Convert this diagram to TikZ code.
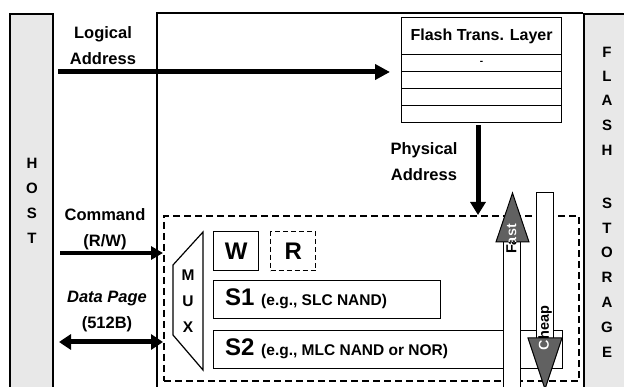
\documentclass[tikz,border=0pt]{standalone}
\usepackage{fontspec}
\setmainfont{Liberation Sans}
\usetikzlibrary{arrows.meta,calc}
\begin{document}
\begin{tikzpicture}[x=1pt,y=-1pt,
  lbl/.style={font=\fontsize{16.5}{26}\selectfont\bfseries, align=center, inner sep=0pt},
  letter/.style={font=\fontsize{15}{15}\selectfont\bfseries, inner sep=0pt},
  side/.style={draw=black, line width=1.6pt, fill=black!9},
  bigarrow/.style={line width=5pt, -{Triangle[length=15pt,width=15pt]}},
  midarrow/.style={line width=4pt, -{Triangle[length=12pt,width=13pt]}},
  dblarrow/.style={line width=5pt, {Triangle[length=12pt,width=15pt]}-{Triangle[length=12pt,width=15pt]}},
  cell/.style={draw=black, line width=1.2pt, anchor=north west, inner sep=0pt, minimum width=160pt},
  box/.style={draw=black, line width=1.2pt, anchor=north west, inner sep=0pt},
  dbox/.style={draw=black, line width=2pt, dash pattern=on 7pt off 4pt, anchor=north west, inner sep=0pt},
  big/.style={font=\fontsize{24}{24}\selectfont\bfseries},
  headfill/.style={draw=black, line width=1pt, fill=black!62},
  shaft/.style={draw=black, line width=1pt, fill=white},
  rtxt/.style={rotate=90, font=\fontsize{14.5}{14.5}\selectfont\bfseries, inner sep=0pt}
]
\useasboundingbox (0,0) rectangle (624,387);
\fill[white] (0,0) rectangle (624,387);

% host column
\node[side, anchor=north west, minimum width=43pt, minimum height=390pt, inner sep=0pt] (host) at (9,13) {};
\node[letter] (h1) at (32,163) {H};
\node[letter] (h2) at (32,188) {O};
\node[letter] (h3) at (32,213) {S};
\node[letter] (h4) at (32,238) {T};

% flash storage column
\node[side, anchor=north west, minimum width=41pt, minimum height=390pt, inner sep=0pt] (fs) at (583,13) {};
\foreach \l/\yy [count=\i] in {F/52,L/76,A/100,S/125,H/150,S/203,T/228,O/252,R/277,A/302,G/327,E/352}
  \node[letter] (f\i) at (607,\yy) {\l};

% main frame
\coordinate (fbl) at (157,400);
\coordinate (ftl) at (157,13);
\draw[line width=1.5pt] (fbl) -- (ftl) -- (fs.north west);

% FTL table
\node[cell, minimum height=37pt, font=\fontsize{16}{16}\selectfont\bfseries] (ftlh) at (401,17) {Flash Trans. Layer};
\node[cell, minimum height=17pt] (r1) at (401,54) {\bfseries -};
\node[cell, minimum height=17pt] (r2) at (401,71) {};
\node[cell, minimum height=17pt] (r3) at (401,88) {};
\node[cell, minimum height=17pt] (r4) at (401,105) {};

% logical address
\node[lbl] (la) at (103,46) {Logical\\Address};
\coordinate (las) at (58,72);
\coordinate (lae) at (390,72);
\draw[bigarrow] (las) -- (lae);

% physical address
\node[lbl] (pa) at (424,162) {Physical\\Address};
\coordinate (pas) at (478,125);

% dashed group
\node[dbox, minimum width=415pt, minimum height=165pt] (grp) at (163,215) {};
\draw[line width=5pt, -{Triangle[length=13pt,width=15pt]}] (pas) -- (pas |- grp.north);

% command
\node[lbl] (cmd) at (105,229) {Command\\(R/W)};
\coordinate (cms) at (60,253);
\draw[midarrow] (cms) -- (cms -| grp.west);

% data page
\node[lbl] (dp) at (107,312) {\itshape Data Page\\(512B)};
\coordinate (dps) at (59,342);
\draw[dblarrow] (dps) -- (dps -| grp.west);

% MUX
\draw[line width=1.2pt] (173,265) -- (203,232) -- (203,370) -- (173,335) -- cycle;
\node[letter, font=\fontsize{15.5}{15.5}\selectfont\bfseries] (m1) at (188,275) {M};
\node[letter, font=\fontsize{15.5}{15.5}\selectfont\bfseries] (m2) at (188,301) {U};
\node[letter, font=\fontsize{15.5}{15.5}\selectfont\bfseries] (m3) at (188,327) {X};

% W and R
\node[box, minimum width=45pt, minimum height=39pt, big] (w) at (213,231) {W};
\node[dbox, line width=1.4pt, dash pattern=on 5pt off 3pt, minimum width=45pt, minimum height=39pt, big] (r) at (270,231) {R};

% S1 and S2
\node[box, minimum width=227pt, minimum height=38pt] (s1) at (213,280) {};
\node[anchor=west, inner sep=0pt] (s1t) at (225,299) {\fontsize{24}{24}\selectfont\bfseries S1 \fontsize{15.5}{15.5}\selectfont(e.g., SLC NAND)};
\node[box, minimum width=349pt, minimum height=38pt] (s2) at (213,330) {};
\node[anchor=west, inner sep=0pt] (s2t) at (225,349) {\fontsize{24}{24}\selectfont\bfseries S2 \fontsize{15.5}{15.5}\selectfont(e.g., MLC NAND or NOR)};

% Fast arrow (up)
\draw[shaft] (503,400) -- (503,242) -- (520,242) -- (520,400);
\draw[headfill] (496,242) -- (512.5,193) -- (529,242) -- cycle;
\node[rtxt, text=black] (fastb) at (511.5,239) {Fast};
\begin{scope}
  \clip (496,242) -- (512.5,193) -- (529,242) -- cycle;
  \node[rtxt, text=white] (fastw) at (511.5,239) {Fast};
\end{scope}

% Cheap arrow (down)
\draw[shaft] (536.5,338) -- (536.5,193) -- (553.5,193) -- (553.5,338);
\draw[headfill] (528,338) -- (545,389) -- (562,338) -- cycle;
\node[rtxt, text=black] (cheapb) at (545,328) {Cheap};
\begin{scope}
  \clip (528,338) -- (545,389) -- (562,338) -- cycle;
  \node[rtxt, text=white] (cheapw) at (545,328) {Cheap};
\end{scope}
\end{tikzpicture}
\end{document}
